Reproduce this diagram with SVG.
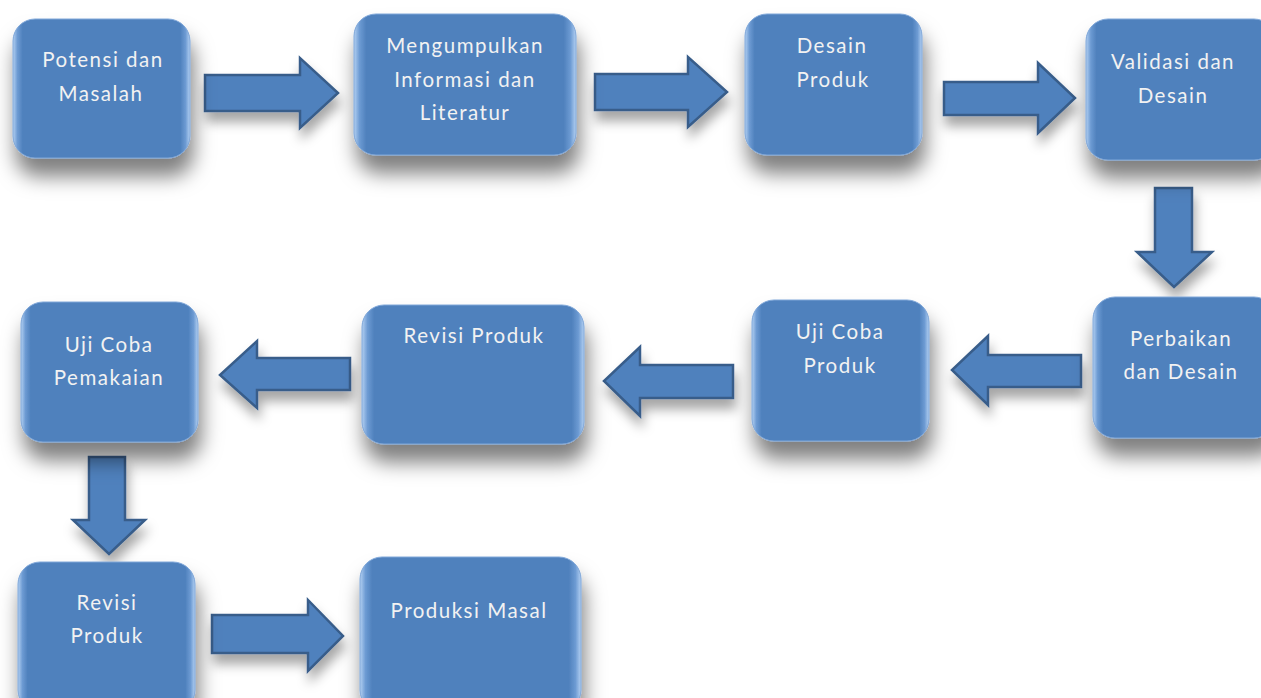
<svg xmlns="http://www.w3.org/2000/svg" width="1261" height="698" viewBox="0 0 1261 698">
<defs>
<filter id="sh" x="-25%" y="-25%" width="160%" height="170%">
<feDropShadow dx="3" dy="18" stdDeviation="10" flood-color="#000" flood-opacity="0.5"/>
</filter>
<filter id="ash" x="-20%" y="-30%" width="150%" height="180%">
<feDropShadow dx="2" dy="10" stdDeviation="6" flood-color="#000" flood-opacity="0.35"/>
</filter>
<linearGradient id="bev" x1="0" y1="0" x2="1" y2="0">
<stop offset="0" stop-color="#b3d0f2"/>
<stop offset="0.025" stop-color="#6d9bd3"/>
<stop offset="0.055" stop-color="#4f81bd"/>
<stop offset="0.945" stop-color="#4f81bd"/>
<stop offset="0.975" stop-color="#6d9bd3"/>
<stop offset="1" stop-color="#b3d0f2"/>
</linearGradient>
</defs>
<style>
.box{fill:url(#bev);stroke:#7ea6d8;stroke-width:1;filter:url(#sh)}
.arr{fill:#4f81bd;stroke:#385d8a;stroke-width:2.5;stroke-linejoin:miter;filter:url(#ash)}
.t{font-family:Lato,"Open Sans","Liberation Sans",sans-serif;font-size:20.5px;fill:#f2f2f2;text-anchor:middle;letter-spacing:1.5px}
</style>
<rect width="1261" height="698" fill="#ffffff"/>
<g id="connectors">
<path class="arr" d="M205,75 H300 V58 L338,93 L300,128 V111 H205 Z"/>
<path class="arr" d="M595,74 H688 V57 L727,92 L688,127 V110 H595 Z"/>
<path class="arr" d="M944,82 H1038 V63 L1075,98 L1038,133 V115 H944 Z"/>
<path class="arr" d="M1155,188 H1192 V252 H1212 L1174,287 L1137,252 H1155 Z"/>
<path class="arr" d="M1081,355 H988 V336 L952,370 L988,405 V387 H1081 Z"/>
<path class="arr" d="M733,365 H640 V347 L604,381 L640,416 V398 H733 Z"/>
<path class="arr" d="M350,358 H257 V341 L220,375 L257,408 V390 H350 Z"/>
<path class="arr" d="M89,457 H125 V520 H145 L109,554 L73,520 H89 Z"/>
<path class="arr" d="M212,615 H308 V600 L343,636 L308,671 V653 H212 Z"/>
</g>
<g id="n1"><rect class="box" x="13" y="19" width="177" height="139" rx="22"/>
<text class="t" x="103" y="67">Potensi dan</text><text class="t" x="101" y="101">Masalah</text></g>
<g id="n2"><rect class="box" x="354" y="14" width="222" height="141" rx="22"/>
<text class="t" x="465" y="53">Mengumpulkan</text><text class="t" x="465" y="87">Informasi dan</text><text class="t" x="465" y="120">Literatur</text></g>
<g id="n3"><rect class="box" x="745" y="14" width="177" height="141" rx="22"/>
<text class="t" x="832" y="53">Desain</text><text class="t" x="833" y="87">Produk</text></g>
<g id="n4"><rect class="box" x="1086" y="19" width="190" height="141" rx="22"/>
<text class="t" x="1173" y="69">Validasi dan</text><text class="t" x="1173" y="103">Desain</text></g>
<g id="n5"><rect class="box" x="1093" y="297" width="183" height="141" rx="22"/>
<text class="t" x="1181" y="346">Perbaikan</text><text class="t" x="1181" y="379">dan Desain</text></g>
<g id="n6"><rect class="box" x="752" y="300" width="177" height="141" rx="22"/>
<text class="t" x="840" y="339">Uji Coba</text><text class="t" x="840" y="373">Produk</text></g>
<g id="n7"><rect class="box" x="362" y="305" width="222" height="139" rx="22"/>
<text class="t" x="474" y="343">Revisi Produk</text></g>
<g id="n8"><rect class="box" x="21" y="302" width="177" height="140" rx="22"/>
<text class="t" x="109" y="352">Uji Coba</text><text class="t" x="109" y="385">Pemakaian</text></g>
<g id="n9"><rect class="box" x="18" y="562" width="177" height="150" rx="22"/>
<text class="t" x="107" y="610">Revisi</text><text class="t" x="107" y="643">Produk</text></g>
<g id="n10"><rect class="box" x="360" y="557" width="221" height="155" rx="22"/>
<text class="t" x="469" y="618">Produksi Masal</text></g>
</svg>
